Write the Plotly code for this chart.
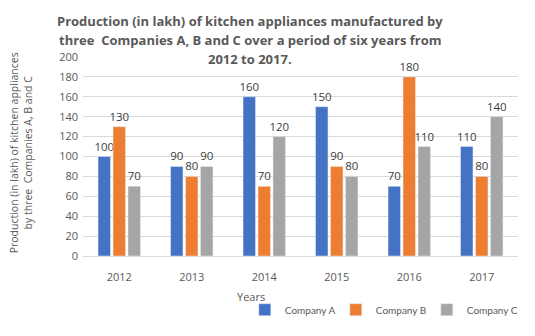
import plotly.graph_objects as go

years = ["2012", "2013", "2014", "2015", "2016", "2017"]
company_a = [100, 90, 160, 150, 70, 110]
company_b = [130, 80, 70, 90, 180, 80]
company_c = [70, 90, 120, 80, 110, 140]
y_ticks = [0, 20, 40, 60, 80, 100, 120, 140, 160, 180, 200]

colors = {"Company A": "#4472C4", "Company B": "#ED7D31", "Company C": "#A5A5A5"}
font_fam = "Open Sans, Liberation Sans, sans-serif"

fig = go.Figure()
for name, vals in [("Company A", company_a), ("Company B", company_b), ("Company C", company_c)]:
    fig.add_trace(go.Bar(
        x=years, y=vals, name=name, marker_color=colors[name],
        text=[str(v) for v in vals], textposition="outside",
        textfont=dict(size=11.5, color="#404040", family=font_fam),
        cliponaxis=False,
    ))

title_lines = [
    "Production (in lakh) of kitchen appliances manufactured by",
    "three  Companies A, B and C over a period of six years from",
    "2012 to 2017.",
]
title_y = [1.180, 1.083, 0.992]

annotations = [
    dict(text=t, xref="paper", yref="paper", x=0.384, y=yy,
         xanchor="center", yanchor="middle", showarrow=False,
         font=dict(size=13, color="#595959", family=font_fam, weight="bold"))
    for t, yy in zip(title_lines, title_y)
]
annotations += [
    dict(text="Years", xref="paper", yref="paper", x=0.386, y=-0.205,
         xanchor="center", yanchor="middle", showarrow=False,
         font=dict(size=11, color="#595959", family=font_fam)),
    dict(text="Production (in lakh) of kitchen appliances<br>by three  Companies A, B and C",
         xref="paper", yref="paper", x=-0.142, y=0.517, textangle=-90,
         xanchor="center", yanchor="middle", showarrow=False, align="center",
         font=dict(size=10.5, color="#595959", family=font_fam)),
]

fig.update_layout(
    width=535, height=336,
    paper_bgcolor="white", plot_bgcolor="white",
    margin=dict(l=83, r=17, t=57, b=74),
    barmode="group", bargap=0.38, bargroupgap=0.17,
    uniformtext=dict(minsize=11, mode="show"),
    font=dict(family=font_fam, color="#595959", size=11),
    xaxis=dict(
        tickfont=dict(size=11, color="#595959"),
        showline=True, linecolor="#D9D9D9", ticks="",
        ticklabelstandoff=11,
    ),
    yaxis=dict(
        range=[0, 200], tickvals=y_ticks,
        tickfont=dict(size=11, color="#595959"),
        gridcolor="#D9D9D9", zeroline=False, showline=False,
        ticklabelstandoff=4,
    ),
    legend=dict(
        orientation="h", x=0.372, xanchor="left", y=-0.27, yanchor="middle",
        font=dict(size=10, color="#595959", family="Lato, Open Sans, sans-serif"),
        traceorder="normal", itemwidth=30,
        entrywidth=46, entrywidthmode="pixels",
    ),
    annotations=annotations,
)

fig.write_html("out.html")
